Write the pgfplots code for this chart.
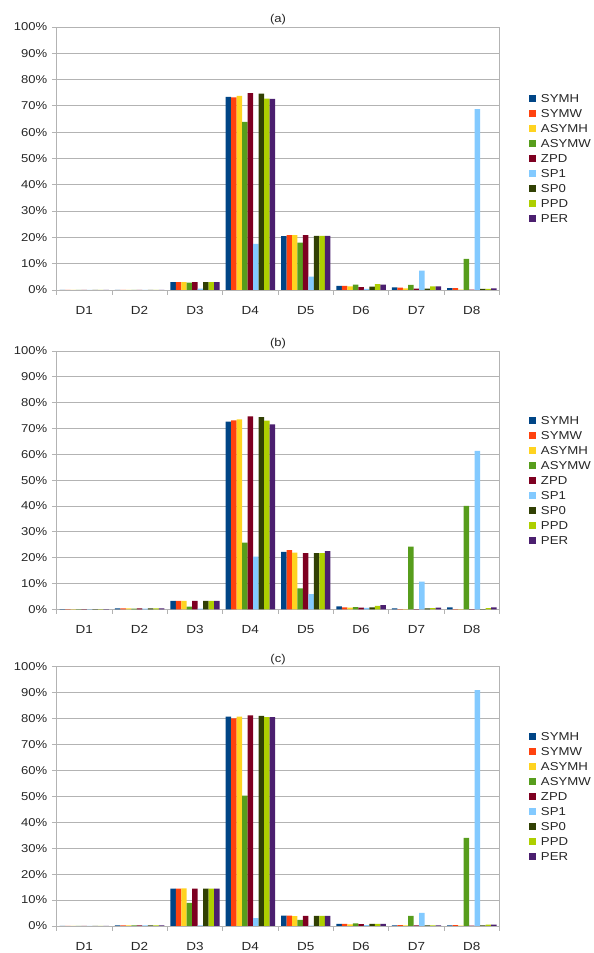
\documentclass[border=0pt]{standalone}
\usepackage{pgfplots}
\pgfplotsset{compat=1.18}
\usepackage{pgfplotstable}
\usepackage{fontspec}
\setmainfont{Liberation Sans}[FakeStretch=1.15]
\definecolor{cSYMH}{HTML}{004586}
\definecolor{cSYMW}{HTML}{FF420E}
\definecolor{cASYMH}{HTML}{FFD320}
\definecolor{cASYMW}{HTML}{579D1C}
\definecolor{cZPD}{HTML}{7E0021}
\definecolor{cSPone}{HTML}{83CAFF}
\definecolor{cSPzero}{HTML}{314004}
\definecolor{cPPD}{HTML}{AECF00}
\definecolor{cPER}{HTML}{4B1F6F}
\definecolor{gridc}{HTML}{B3B3B3}

\pgfplotstableread{
x SYMH SYMW ASYMH ASYMW ZPD SP1 SP0 PPD PER
1 0.05 0.05 0.05 0.05 0.05 0.05 0.05 0.05 0.05
2 0.05 0.05 0.05 0.05 0.05 0.05 0.05 0.05 0.05
3 3.0 3.0 3.0 2.8 3.0 0.5 3.0 3.0 3.0
4 73.4 73.2 73.8 63.9 74.9 17.5 74.7 72.8 72.7
5 20.5 20.9 20.9 18.0 20.9 5.1 20.6 20.6 20.6
6 1.6 1.6 1.4 2.0 1.1 0.4 1.3 2.2 2.0
7 1.0 0.9 0.6 1.9 0.5 7.4 0.5 1.4 1.4
8 0.7 0.7 0.1 11.8 0.1 68.8 0.4 0.4 0.6
}\dataA

\pgfplotstableread{
x SYMH SYMW ASYMH ASYMW ZPD SP1 SP0 PPD PER
1 0.05 0.05 0.05 0.05 0.05 0.05 0.05 0.05 0.05
2 0.3 0.3 0.3 0.2 0.3 0.2 0.3 0.3 0.3
3 3.2 3.2 3.2 1.0 3.2 0.2 3.2 3.2 3.2
4 72.7 73.1 73.5 25.8 74.7 20.4 74.4 73.0 71.6
5 22.2 22.9 21.9 8.1 21.7 5.9 21.7 21.7 22.5
6 1.1 0.7 0.6 0.8 0.6 0.5 0.7 1.3 1.6
7 0.3 0.1 0.1 24.3 0.1 10.7 0.3 0.4 0.6
8 0.7 0.1 0.1 40.0 0.1 61.3 0.1 0.4 0.7
}\dataB

\pgfplotstableread{
x SYMH SYMW ASYMH ASYMW ZPD SP1 SP0 PPD PER
1 0.05 0.05 0.05 0.05 0.05 0.05 0.05 0.05 0.05
2 0.2 0.2 0.2 0.2 0.2 0.2 0.2 0.2 0.2
3 14.4 14.4 14.5 8.9 14.4 0.2 14.4 14.4 14.4
4 80.7 80.1 80.7 50.3 81.2 3.0 81.0 80.5 80.5
5 4.0 4.0 3.8 2.4 3.9 0.1 3.9 3.9 3.9
6 0.8 0.8 0.6 1.0 0.7 0.3 0.8 0.8 0.8
7 0.2 0.3 0.2 3.9 0.2 5.1 0.2 0.2 0.2
8 0.2 0.3 0.1 34.0 0.1 91.0 0.2 0.5 0.5
}\dataC

\pgfplotsset{
  sqlegend/.style={legend image code/.code={\fill[##1] (0pt,-2.7pt) rectangle (5.4pt,2.7pt);}},
  chartax/.style={
    scale only axis,
    width=332.25pt,
    ybar=0pt, bar width=0.099,
    xmin=0.5, xmax=8.5, ymin=0, ymax=100,
    xtick={1,...,8}, xticklabels={D1,D2,D3,D4,D5,D6,D7,D8},
    major x tick style={draw=none},
    minor xtick={0.5,1.5,...,8.5},
    xtick pos=bottom, ytick pos=left,
    ytick={0,10,...,100},
    yticklabel={\pgfmathprintnumber{\tick}\%},
    /pgf/number format/assume math mode=true,
    ymajorgrids, grid style={gridc, line width=0.6pt},
    axis line style={gridc, line width=0.6pt},
    tick style={gridc, line width=0.6pt},
    tick align=outside, major tick length=3.5pt, minor tick length=3.5pt,
    tick label style={font=\fontsize{8.5}{10}\selectfont, text=black!85},
    x tick label style={font=\fontsize{8.8}{10}\selectfont, yshift=-5pt},
    title style={at={(0.5,1)}, anchor=base, yshift=-3pt, font=\fontsize{8.5}{10}\selectfont, text=black!85},
    legend style={at={(1,0.5)}, anchor=west, xshift=19pt, draw=none, fill=none,
      font=\fontsize{8.6}{10}\selectfont, text=black!85,
      row sep=1.25pt, nodes={inner sep=0.5pt, text height=7.5pt, text depth=1.5pt},
      /tikz/every odd column/.append style={column sep=3pt}},
    legend cell align=left,
  },
}

\newcommand{\panel}[4]{%
\begin{axis}[chartax, height=#4, at={(42.4pt,#3)}, anchor=south west, title={#2}]
\addplot[fill=cSYMH, draw=none, sqlegend] table[x=x,y=SYMH]{#1};
\addplot[fill=cSYMW, draw=none, sqlegend] table[x=x,y=SYMW]{#1};
\addplot[fill=cASYMH, draw=none, sqlegend] table[x=x,y=ASYMH]{#1};
\addplot[fill=cASYMW, draw=none, sqlegend] table[x=x,y=ASYMW]{#1};
\addplot[fill=cZPD, draw=none, sqlegend] table[x=x,y=ZPD]{#1};
\addplot[fill=cSPone, draw=none, sqlegend] table[x=x,y=SP1]{#1};
\addplot[fill=cSPzero, draw=none, sqlegend] table[x=x,y=SP0]{#1};
\addplot[fill=cPPD, draw=none, sqlegend] table[x=x,y=PPD]{#1};
\addplot[fill=cPER, draw=none, sqlegend] table[x=x,y=PER]{#1};
\legend{SYMH,SYMW,ASYMH,ASYMW,ZPD,SP1,SP0,PPD,PER}
\end{axis}}

\begin{document}
\begin{tikzpicture}
\useasboundingbox (0,0) rectangle (444.75pt,714.75pt);
\panel{\dataA}{(a)}{497.25pt}{197.25pt}
\panel{\dataB}{(b)}{257.8pt}{193.7pt}
\panel{\dataC}{(c)}{20.25pt}{194.5pt}
\end{tikzpicture}
\end{document}
